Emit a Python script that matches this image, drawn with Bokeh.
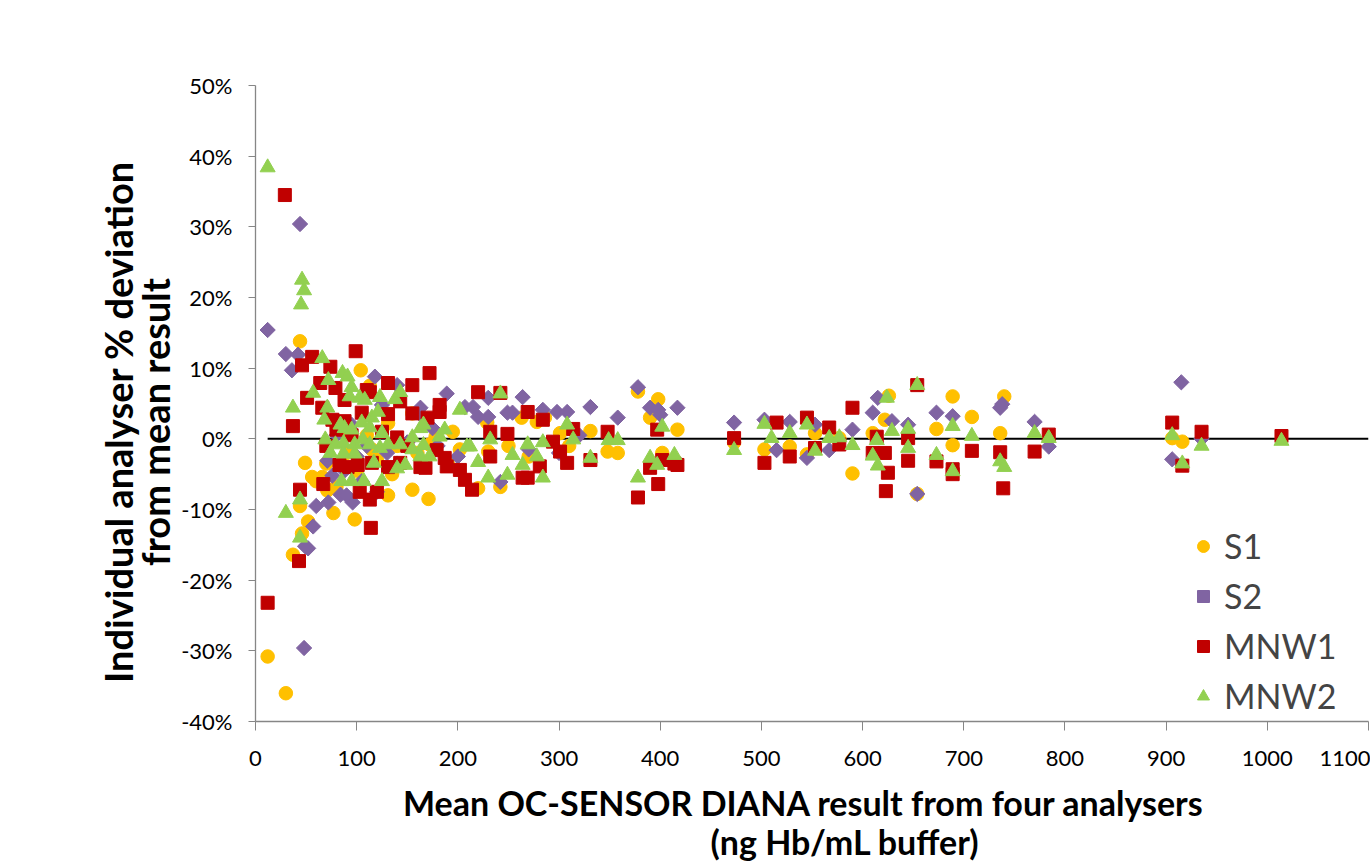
from bokeh.plotting import figure
from bokeh.models import Range1d, FixedTicker, PrintfTickFormatter, Legend, LegendItem, LinearAxis
from bokeh.embed import file_html
from bokeh.resources import INLINE
import math

# ---- data (x = mean result, y = % deviation) ----
s1_x = [12, 30, 44, 37, 49, 56, 46, 44, 52, 66, 71, 80, 77, 98, 104, 113, 131, 155, 171, 155, 131,
        90, 100, 120, 140, 172, 178, 202, 229, 220, 242, 263, 278, 301, 286, 331, 348, 358, 378, 398,
        390, 402, 417, 473, 503, 528, 545, 553, 577, 590, 610, 622, 626, 654, 673, 689, 689, 708, 736,
        740, 906, 916, 85, 110, 160, 190, 250, 60, 70, 135, 115, 195, 270, 310, 230]
s1_y = [-30.8, -36.0, 13.8, -16.4, -3.4, -5.4, -13.4, -9.5, -11.7, -5.4, -7.3, -6.8, -10.5, -11.4, 9.7,
        7.5, -8.0, -7.2, -8.5, 3.6, 2.2, -2.0, -4.5, -3.0, -1.0, -0.8, 0.3, -1.5, 2.3, -7.0, -6.8, 3.0,
        2.4, 0.8, 3.0, 1.1, -1.8, -2.0, 6.7, 5.6, 3.0, -2.0, 1.3, -0.5, -1.5, -1.1, -2.2, 0.8, 0.1, -4.9,
        0.8, 2.7, 6.1, -7.8, 1.4, 6.0, -0.9, 3.1, 0.8, 6.0, 0.1, -0.4, 1.0, 0.5, -2.0, -3.5, -1.0, -6.0,
        -3.5, -5.0, -1.5, 1.0, -2.5, -1.0, -1.8]

s2_x = [12, 30, 42, 36, 44, 48, 57, 49, 52, 72, 84, 96, 90, 118, 125, 140, 163, 166, 189, 230, 264,
        207, 215, 331, 298, 308, 284, 254, 249, 358, 230, 220, 378, 390, 398, 400, 417, 473, 503, 515,
        528, 545, 553, 567, 590, 610, 615, 629, 645, 654, 673, 689, 736, 738, 770, 784, 906, 915, 935,
        242, 71, 88, 76, 100, 110, 80, 95, 130, 150, 175, 200, 60, 105, 120, 140, 180, 270, 300, 320]
s2_y = [15.4, 12.0, 11.9, 9.7, 30.4, -29.6, -12.4, -15.2, -15.5, -9.0, -7.9, -9.0, -8.0, 8.8, 4.8, 7.6,
        4.4, 3.0, 6.4, 5.8, 5.9, 4.5, 4.5, 4.5, 3.8, 3.8, 4.1, 3.7, 3.7, 3.0, 3.1, 3.1, 7.3, 4.4, 4.1,
        3.4, 4.4, 2.3, 2.7, -1.6, 2.4, -2.7, 2.0, -1.6, 1.3, 3.7, 5.8, 2.5, 2.0, -7.8, 3.7, 3.2, 4.4, 4.9,
        2.4, -1.1, -2.9, 8.0, 0.0, -6.1, -3.1, -4.5, -5.2, -2.5, -1.0, 0.5, 2.0, -2.0, -0.5, 1.5, -2.5,
        -9.5, -6.0, -7.5, -3.5, -1.0, -1.5, -2.0, 0.5]

mnw1_x = [12, 29, 37, 43, 44, 46, 51, 56, 64, 66, 67, 74, 76, 79, 80, 88, 83, 91, 99, 101, 103, 105,
          110, 113, 113, 114, 115, 120, 131, 131, 131, 140, 143, 143, 155, 155, 163, 168, 170, 172, 179,
          182, 182, 187, 189, 202, 207, 214, 220, 232, 232, 242, 249, 264, 269, 269, 281, 284, 294, 301,
          308, 314, 331, 348, 378, 390, 397, 398, 402, 414, 417, 473, 503, 515, 528, 545, 553, 567, 577,
          590, 610, 614, 622, 623, 625, 645, 645, 654, 673, 689, 689, 708, 736, 739, 770, 784, 906, 916,
          935, 1014, 95, 125, 150, 88, 70]
mnw1_y = [-23.2, 34.5, 1.8, -17.3, -7.2, 10.4, 5.8, 11.6, 7.9, 4.4, -6.4, 10.2, 2.7, 7.2, 1.3, 2.5, -3.7,
          -4.0, 12.4, -3.7, -7.5, 3.7, 6.9, 6.6, -8.6, -12.6, -3.4, -7.5, 7.9, 3.5, -4.0, 0.2, 5.3, -3.4,
          7.6, 3.6, -4.0, -4.1, 3.0, 9.3, -1.6, 4.8, 3.8, -2.7, -3.9, -4.4, -5.8, -7.2, 6.6, 1.0, -2.5, 6.5,
          0.7, -5.5, -5.5, 3.8, -3.9, 2.7, -0.4, -1.8, -3.4, 1.4, -3.0, 1.0, -8.3, -4.1, 1.3, -6.4, -3.0,
          -3.5, -3.7, 0.1, -3.4, 2.3, -2.5, 3.0, -1.3, 1.6, -0.8, 4.4, -2.0, 0.3, -2.0, -7.4, -4.8, 0.1,
          -3.1, 7.6, -3.2, -4.3, -5.0, -1.7, -1.9, -7.0, -1.8, 0.6, 2.3, -3.8, 1.0, 0.4, 0.5, 1.0, -1.0,
          5.5, -1.0]

mnw2_x = [12, 30, 37, 44, 44, 46, 48, 45, 57, 66, 68, 69, 71, 72, 74, 79, 84, 85, 86, 87, 87, 88, 91,
          93, 95, 95, 95, 98, 98, 103, 105, 106, 107, 108, 113, 113, 115, 117, 121, 123, 123, 125, 125,
          131, 138, 140, 143, 143, 148, 155, 155, 163, 163, 166, 166, 172, 182, 187, 202, 209, 212, 220,
          230, 232, 242, 249, 254, 264, 269, 278, 284, 284, 308, 314, 331, 349, 358, 378, 390, 397, 402,
          414, 473, 503, 510, 528, 545, 553, 567, 577, 590, 610, 614, 615, 624, 629, 645, 645, 654, 673,
          689, 689, 708, 736, 740, 770, 784, 906, 916, 935, 1014]
mnw2_y = [38.4, -10.5, 4.4, -8.6, -14.0, 22.5, 21.0, 19.0, 6.5, 11.4, 2.7, -0.1, 4.4, 8.3, -2.0, -0.8,
          2.0, -6.0, 9.3, -0.6, -2.1, 1.5, 8.8, 6.0, 7.3, 1.3, -6.0, -0.8, -2.1, 5.8, 2.3, -0.1, -6.0, 5.5,
          1.6, -0.8, 3.0, -3.4, 3.8, 5.9, -1.3, 0.8, -6.0, -0.8, 5.6, -4.2, 6.6, -0.8, -3.7, 0.2, -1.5, 1.5,
          -2.5, 2.0, -0.9, -2.5, 0.3, 1.3, 4.1, -1.1, -1.1, -3.3, -5.5, -0.1, 6.4, -5.1, -2.3, -3.7, -0.8,
          -2.5, -0.5, -5.5, 2.0, -0.1, -2.7, -0.2, -0.2, -5.5, -2.7, -3.7, 1.7, -2.3, -1.6, 2.1, 0.1, 0.8,
          2.0, -1.7, 0.1, 0.2, -0.9, -2.4, -0.2, -3.8, 5.8, 1.1, 1.4, -1.3, 7.6, -2.3, 1.8, -4.6, 0.4, -3.2,
          -4.0, 0.8, 0.1, 0.5, -3.5, -1.0, -0.3]

zero_x = [12, 1100]
zero_y = [0, 0]

x_ticks = list(range(0, 1101, 100))
y_ticks = list(range(-40, 51, 10))

NB = "\u00a0"
x_title_1 = "Mean OC-SENSOR DIANA result from four analysers" + NB * 2
x_title_2 = NB * 8 + "(ng Hb/mL buffer)"
y_title = "Individual analyser % deviation" + NB * 4 + "\nfrom mean result" + NB * 4

FONT = "Lato"

p = figure(width=1370, height=864, output_backend="svg", toolbar_location=None,
           x_range=Range1d(0, 1100), y_range=Range1d(-40, 50),
           min_border_left=255, min_border_right=2, min_border_top=85, min_border_bottom=142)
p.xgrid.visible = False
p.ygrid.visible = False
p.outline_line_color = None
p.background_fill_color = "white"
p.border_fill_color = "white"

p.line(zero_x, zero_y, line_color="black", line_width=2)

r1 = p.scatter(s1_x, s1_y, marker="circle", size=13.5, fill_color="#FFC000", line_color="#FFC000")
r2 = p.scatter(s2_x, s2_y, marker="square", angle=math.pi / 4, size=10.8,
               fill_color="#8064A2", line_color="#8064A2")
r3 = p.scatter(mnw1_x, mnw1_y, marker="square", size=13, fill_color="#C00000", line_color="#C00000")
r4 = p.scatter(mnw2_x, mnw2_y, marker="triangle", size=15, fill_color="#92D050", line_color="#92D050")

for ax in (p.xaxis[0], p.yaxis[0]):
    ax.axis_line_color = "#868686"
    ax.axis_line_width = 1.3
    ax.major_tick_line_color = "#868686"
    ax.minor_tick_line_color = None
    ax.major_tick_in = 0
    ax.major_label_text_font = FONT
    ax.major_label_text_font_size = "22px"
    ax.major_label_text_color = "black"
    ax.axis_label_text_font = FONT
    ax.axis_label_text_font_style = "bold"
    ax.axis_label_text_color = "black"

xa = p.xaxis[0]
xa.ticker = FixedTicker(ticks=x_ticks)
xa.major_tick_out = 9
xa.major_label_standoff = 20
xa.axis_label = x_title_1
xa.axis_label_standoff = 13
xa.axis_label_text_font_size = "34px"
xa.axis_label_text_line_height = 1.0

# second line of the x title, on a tick-less axis further below
xa2 = LinearAxis(ticker=FixedTicker(ticks=[]), axis_line_color=None, major_tick_line_color=None,
                 minor_tick_line_color=None, major_tick_in=0, major_tick_out=0,
                 major_label_standoff=0, axis_label=x_title_2, axis_label_standoff=-5,
                 axis_label_text_font=FONT, axis_label_text_font_style="bold",
                 axis_label_text_font_size="34px", axis_label_text_color="black",
                 axis_label_text_line_height=1.0)
p.add_layout(xa2, "below")

ya = p.yaxis[0]
ya.ticker = FixedTicker(ticks=y_ticks)
ya.formatter = PrintfTickFormatter(format="%d%%")
ya.major_tick_out = 7
ya.major_label_standoff = 16
ya.axis_label = y_title
ya.axis_label_standoff = 0
ya.axis_label_text_font_size = "38px"
ya.axis_label_text_line_height = 0.8

legend = Legend(items=[LegendItem(label="S1", renderers=[r1]),
                       LegendItem(label="S2", renderers=[r2]),
                       LegendItem(label="MNW1", renderers=[r3]),
                       LegendItem(label="MNW2", renderers=[r4])],
                location=(933, 5), glyph_width=30, glyph_height=30, label_height=30,
                spacing=9, padding=0, margin=0, label_standoff=6,
                label_text_font=FONT, label_text_font_size="34px",
                border_line_color=None, background_fill_alpha=0)
p.add_layout(legend)

open("out.html", "w").write(file_html(p, INLINE))
